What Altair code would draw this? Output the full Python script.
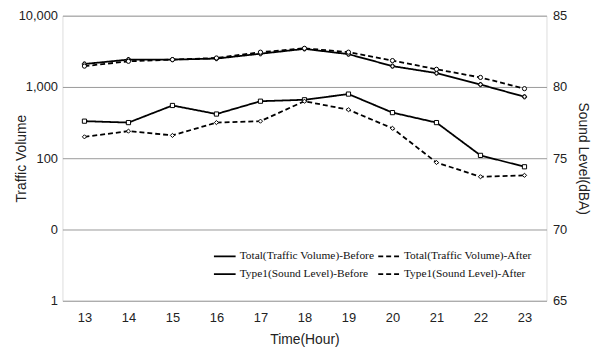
import altair as alt
import pandas as pd

hours = [13, 14, 15, 16, 17, 18, 19, 20, 21, 22, 23]
total_before = [2100, 2420, 2420, 2500, 2925, 3420, 2885, 1960, 1565, 1080, 728]
total_after = [1960, 2290, 2420, 2550, 3075, 3485, 3075, 2345, 1770, 1360, 946]
type1_before = [77.6, 77.5, 78.7, 78.1, 79.0, 79.1, 79.5, 78.2, 77.5, 75.2, 74.4]
type1_after = [76.5, 76.9, 76.6, 77.5, 77.6, 79.0, 78.4, 77.1, 74.7, 73.7, 73.8]

series_names = [
    "Total(Traffic Volume)-Before",
    "Total(Traffic Volume)-After",
    "Type1(Sound Level)-Before",
    "Type1(Sound Level)-After",
]
# legend fills column by column, so order so that rows read TB/TA, T1B/T1A
legend_order = [series_names[0], series_names[2], series_names[1], series_names[3]]
dash_styles = {series_names[0]: [1, 0], series_names[1]: [5, 3],
               series_names[2]: [1, 0], series_names[3]: [5, 3]}
marker_shapes = {series_names[0]: "cross", series_names[1]: "circle",
                 series_names[2]: "square", series_names[3]: "diamond"}

def long(vals, name):
    return pd.DataFrame({"hour": hours, "value": vals, "series": name, "marker": name})

df_total = pd.concat([long(total_before, series_names[0]), long(total_after, series_names[1])])
df_type1 = pd.concat([long(type1_before, series_names[2]), long(type1_after, series_names[3])])

FONT = "Liberation Sans"

x_enc = alt.X("hour:Q", scale=alt.Scale(domain=[12.5, 23.5], nice=False, zero=False),
              axis=alt.Axis(values=hours, format="d", title="Time(Hour)", grid=False,
                            ticks=False, domain=False, labelPadding=11, titlePadding=8,
                            labelFontSize=13, titleFontSize=14, labelFont=FONT, titleFont=FONT,
                            titleFontWeight="normal", labelColor="#222", titleColor="#222"))

dash_enc = alt.StrokeDash("series:N",
    scale=alt.Scale(domain=legend_order, range=[dash_styles[s] for s in legend_order]),
    legend=alt.Legend(title=None, orient="none", legendX=152, legendY=231, columns=2,
                      symbolType="stroke", symbolSize=480, symbolStrokeColor="black",
                      symbolStrokeWidth=1.8, labelFont="Liberation Serif", labelFontSize=11.5,
                      labelColor="#111", rowPadding=-6, columnPadding=0, labelOffset=3,
                      labelLimit=300))
shape_enc = alt.Shape("marker:N",
    scale=alt.Scale(domain=series_names, range=[marker_shapes[s] for s in series_names]),
    legend=None)

y_left = alt.Y("value:Q",
    scale=alt.Scale(type="log", domain=[1, 10000], nice=False),
    axis=alt.Axis(orient="left", title="Traffic Volume", values=[1, 10, 100, 1000, 10000],
                  labelExpr="datum.value == 10 ? '0' : format(datum.value, ',')",
                  grid=True, gridColor="#999", gridWidth=1, ticks=False, domain=False,
                  labelPadding=5, titleX=-41, titleBaseline="middle",
                  labelFontSize=13, titleFontSize=14,
                  labelFont=FONT, titleFont=FONT, titleFontWeight="normal",
                  labelColor="#222", titleColor="#222"))
y_right = alt.Y("value:Q",
    scale=alt.Scale(domain=[65, 85], nice=False, zero=False),
    axis=alt.Axis(orient="right", title="Sound Level(dBA)", values=[65, 70, 75, 80, 85],
                  grid=False, ticks=False, domain=False, labelPadding=6,
                  titleX=36, titleBaseline="middle",
                  labelFontSize=13, titleFontSize=14, labelFont=FONT, titleFont=FONT,
                  titleFontWeight="normal", labelColor="#222", titleColor="#222"))

base_t = alt.Chart(df_total)
total_layer = alt.layer(
    base_t.mark_line(color="black", strokeWidth=1.8).encode(x=x_enc, y=y_left, strokeDash=dash_enc),
    base_t.mark_point(filled=True, fill="white", stroke="black", strokeWidth=1, size=18, opacity=1).encode(
        x=x_enc, y=y_left, shape=shape_enc),
)
base_s = alt.Chart(df_type1)
type1_layer = alt.layer(
    base_s.mark_line(color="black", strokeWidth=1.8).encode(x=x_enc, y=y_right, strokeDash=dash_enc),
    base_s.mark_point(filled=True, fill="white", stroke="black", strokeWidth=1, size=18, opacity=1).encode(
        x=x_enc, y=y_right, shape=shape_enc),
)

chart = alt.layer(total_layer, type1_layer).resolve_scale(y="independent").properties(
    width=489, height=288,
    autosize=alt.AutoSizeParams(type="none"),
    padding={"left": 55, "top": 6, "right": 48, "bottom": 50},
).configure_view(stroke="#777", strokeWidth=1).configure(background="white")

chart.save("out.html", embed_options={"renderer": "svg", "actions": False})
